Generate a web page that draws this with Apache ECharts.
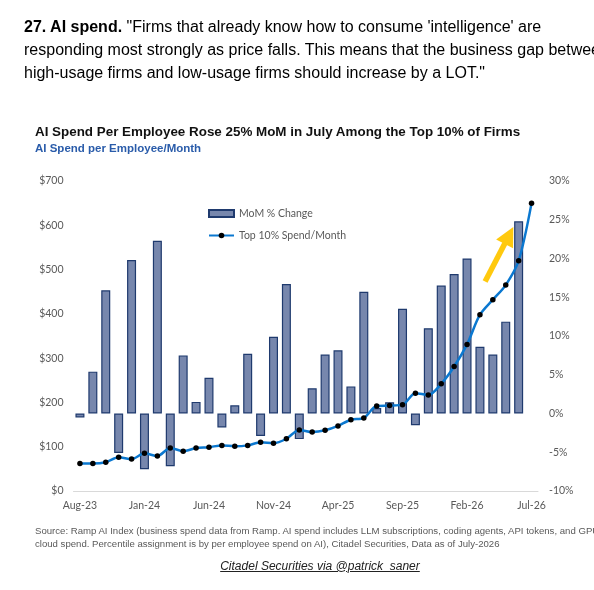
<!DOCTYPE html>
<html>
<head>
<meta charset="utf-8">
<script src="https://cdn.jsdelivr.net/npm/echarts@6/dist/echarts.min.js"></script>
<style>
  html, body { margin:0; padding:0; width:594px; height:590px; overflow:hidden; background:#fff; }
  #chart { position:absolute; left:0; top:0; width:594px; height:590px; }
  .txt { position:absolute; white-space:nowrap; font-family:'Liberation Sans', Arial, sans-serif; z-index:2; }
  #para { left:24px; top:15px; font-size:16px; line-height:23px; color:#000; }
  #title { left:35px; top:124px; font-size:13.4px; line-height:16px; font-weight:bold; color:#111; }
  #subtitle { left:35px; top:139.5px; font-size:11.5px; line-height:16px; font-weight:bold; color:#2A5CAA; }
  #foot { left:35px; top:523.5px; font-size:9.6px; line-height:13px; color:#595959; }
  #link { left:0; width:640px; text-align:center; top:558.5px; font-size:12px; line-height:15px; font-style:italic; text-decoration:underline; color:#222; }
</style>
</head>
<body>
<div id="chart"></div>
<div id="para" class="txt"><b>27. AI spend.</b> "Firms that already know how to consume 'intelligence' are<br>responding most strongly as price falls. This means that the business gap between<br>high-usage firms and low-usage firms should increase by a LOT."</div>
<div id="title" class="txt">AI Spend Per Employee Rose 25% MoM in July Among the Top 10% of Firms</div>
<div id="subtitle" class="txt">AI Spend per Employee/Month</div>
<div id="foot" class="txt">Source: Ramp AI Index (business spend data from Ramp. AI spend includes LLM subscriptions, coding agents, API tokens, and GPU<br>cloud spend. Percentile assignment is by per employee spend on AI), Citadel Securities, Data as of July-2026</div>
<div id="link" class="txt">Citadel Securities via @patrick_saner</div>
<script>
// ---- data ----
const months = ['Aug-23','Sep-23','Oct-23','Nov-23','Dec-23','Jan-24','Feb-24','Mar-24','Apr-24','May-24','Jun-24','Jul-24','Aug-24','Sep-24','Oct-24','Nov-24','Dec-24','Jan-25','Feb-25','Mar-25','Apr-25','May-25','Jun-25','Jul-25','Aug-25','Sep-25','Oct-25','Nov-25','Dec-25','Jan-26','Feb-26','Mar-26','Apr-26','May-26','Jun-26','Jul-26'];
const spendTop10 = [62,62,65,76,72,85,79,97,90,97,99,103,101,103,110,108,118,138,133,137,147,161,165,192,193,195,221,217,242,281,331,398,432,465,520,650];
const momChange = [-0.5,5.4,15.9,-5.1,19.8,-7.2,22.3,-6.8,7.5,1.5,4.6,-1.8,1.05,7.7,-2.9,9.9,16.7,-3.3,3.25,7.6,8.15,3.5,15.7,0.7,1.45,13.5,-1.5,11.0,16.5,18.0,20.0,8.6,7.6,11.85,24.8,null];
const seriesNames = ['MoM % Change', 'Top 10% Spend/Month'];
// annotation arrow (month index, $ value)
const arrowFrom = [31.4, 473];
const arrowTo = [33.25, 577];

const labelFont = 'Lato, "Liberation Sans", sans-serif';
const chart = echarts.init(document.getElementById('chart'), null, { renderer: 'canvas' });
chart.setOption({
  animation: false,
  backgroundColor: '#fff',
  grid: { left: 73.5, right: 56, top: 181, bottom: 99, containLabel: false, outerBoundsMode: 'none' },
  legend: {
    orient: 'vertical',
    left: 203, top: 203,
    itemWidth: 25, itemHeight: 7, itemGap: 11,
    textStyle: { color: '#595959', fontSize: 10.5, fontFamily: labelFont },
    data: [
      { name: seriesNames[0], icon: 'rect' },
      { name: seriesNames[1] }
    ]
  },
  xAxis: [{
    type: 'category',
    data: months,
    boundaryGap: true,
    axisLine: { lineStyle: { color: '#D9D9D9' } },
    axisTick: { interval: 4, length: 4, lineStyle: { color: '#D9D9D9' } },
    axisLabel: { interval: 4, color: '#595959', fontSize: 10.5, fontFamily: labelFont, margin: 9 },
    splitLine: { show: false }
  }, {
    type: 'value', show: false, min: -0.5, max: 35.5
  }],
  yAxis: [{
    type: 'value', min: 0, max: 700, interval: 100, position: 'left',
    axisLine: { show: false }, axisTick: { show: false }, splitLine: { show: false },
    axisLabel: { formatter: v => '$' + v, color: '#595959', fontSize: 10.5, fontFamily: labelFont, margin: 10 }
  }, {
    type: 'value', min: -10, max: 30, interval: 5, position: 'right',
    axisLine: { show: false }, axisTick: { show: false }, splitLine: { show: false },
    axisLabel: { formatter: v => v + '%', color: '#595959', fontSize: 10.5, fontFamily: labelFont, margin: 11 }
  }],
  series: [{
    name: seriesNames[0],
    type: 'bar',
    xAxisIndex: 0, yAxisIndex: 1,
    data: momChange,
    barWidth: 9,
    itemStyle: { color: '#7787AD', borderColor: '#1F3A6E', borderWidth: 1.2 },
    z: 2
  }, {
    name: seriesNames[1],
    type: 'line',
    xAxisIndex: 0, yAxisIndex: 0,
    data: spendTop10,
    smooth: 0.3,
    symbol: 'circle', symbolSize: 5.5,
    lineStyle: { color: '#0B78D0', width: 2.5 },
    itemStyle: { color: '#000' },
    z: 4
  }, {
    type: 'lines',
    coordinateSystem: 'cartesian2d',
    xAxisIndex: 1, yAxisIndex: 0,
    symbol: ['none', 'triangle'],
    symbolSize: 19,
    lineStyle: { color: '#FFC90E', width: 5.5, opacity: 1, curveness: 0 },
    data: [{ coords: [arrowFrom, arrowTo] }],
    silent: true,
    z: 5
  }]
});
</script>
</body>
</html>
